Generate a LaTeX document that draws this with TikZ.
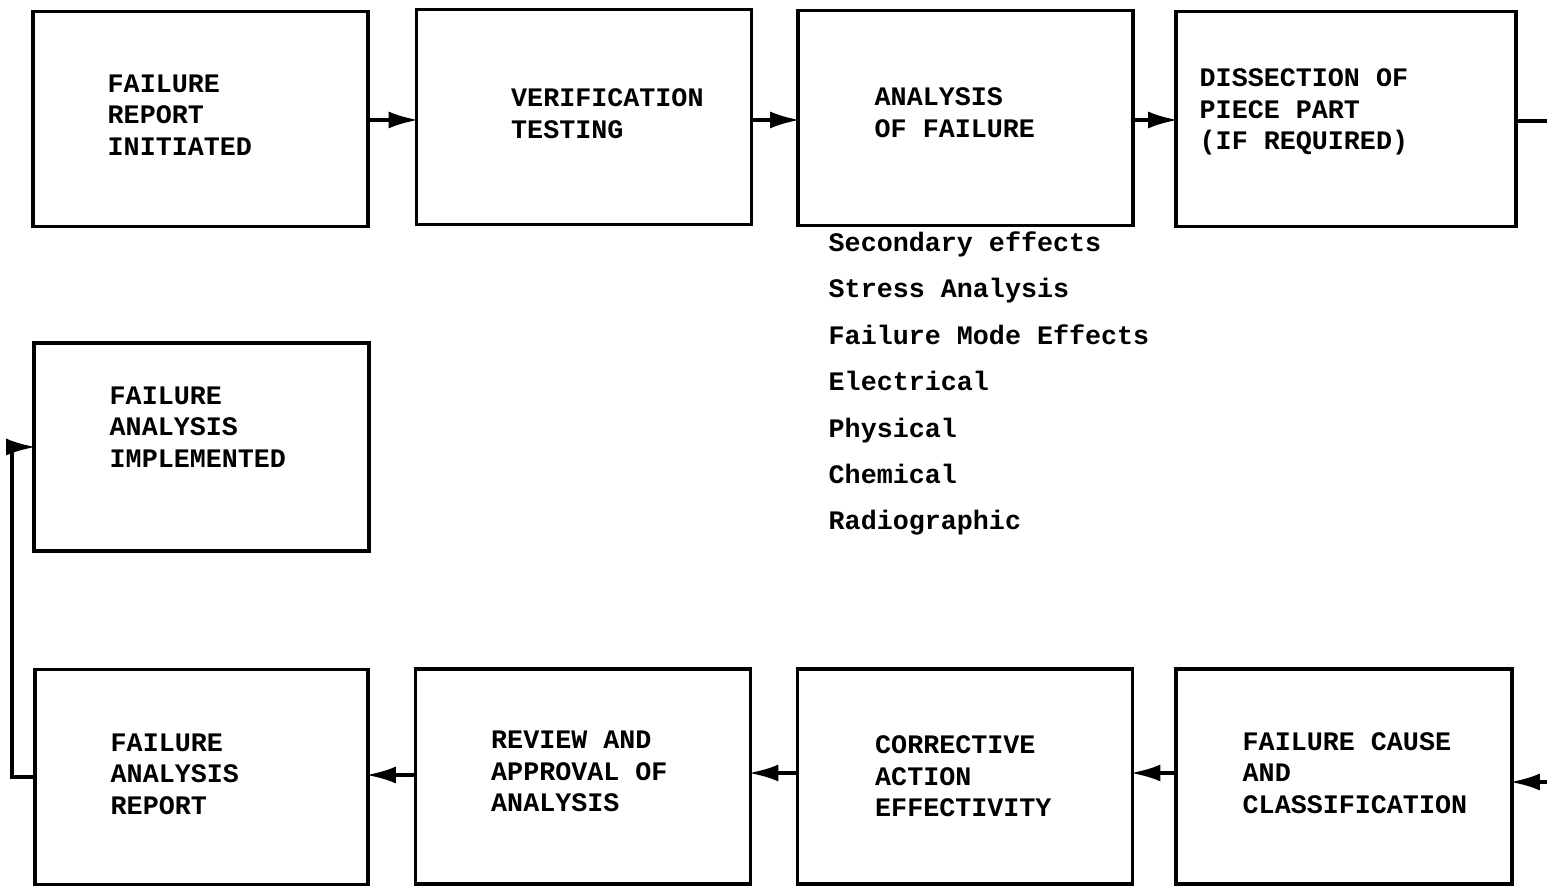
\documentclass[tikz,border=0pt]{standalone}
\usepackage{fontspec}
\usepackage{tikz}
\usetikzlibrary{positioning,arrows.meta}
\newfontfamily\maquina{Liberation Mono}

\begin{document}
\begin{tikzpicture}[
  caja/.style={draw, line width=1.1pt, minimum width=3.35cm,
               minimum height=2.15cm, inner sep=0pt, outer sep=0pt},
  rotulo/.style={font=\maquina\bfseries\fontsize{7.6}{9}\selectfont,
                 align=left, anchor=west, inner sep=0pt},
  lista/.style={font=\maquina\bfseries\fontsize{7.6}{13.2}\selectfont,
                align=left, anchor=north west, inner sep=0pt},
  flecha/.style={line width=1.1pt, shorten >=-0.6pt,
                 -{Latex[length=3mm,width=1.7mm]}},
  linea/.style={line width=1.1pt},
]
\useasboundingbox (0,0) rectangle (15.47,8.87);
% --- fila superior --------------------------------------------------------
\node[caja] (informe) at (2.005,7.68) {};
\node[caja] (verif) at (5.84,7.70) {};
\node[caja] (analisis) at (9.655,7.69) {};
\node[caja, minimum width=3.4cm] (diseccion) at (13.46,7.68) {};
\node[rotulo, right=0.74 of informe.west, yshift=0.04cm] (t-informe)
  {FAILURE\\REPORT\\INITIATED};
\node[rotulo, right=0.94 of verif.west, yshift=0.03cm] (t-verif)
  {VERIFICATION\\TESTING};
\node[rotulo, right=0.76 of analisis.west, yshift=0.05cm] (t-analisis)
  {ANALYSIS\\OF FAILURE};
\node[rotulo, right=0.23 of diseccion.west, yshift=0.07cm] (t-diseccion)
  {DISSECTION OF\\PIECE PART\\(IF REQUIRED)};
% --- tipos de analisis ------------------------------------------------------
\node[lista] (efectos) at (8.28,6.56)
  {Secondary effects\\Stress Analysis\\Failure Mode Effects\\Electrical\\
   Physical\\Chemical\\Radiographic};
% --- caja intermedia --------------------------------------------------------
\node[caja, minimum height=2.08cm] (implementado) at (2.015,4.40) {};
\node[rotulo, right=0.75 of implementado.west, yshift=0.2cm] (t-implementado)
  {FAILURE\\ANALYSIS\\IMPLEMENTED};
% --- fila inferior ----------------------------------------------------------
\node[caja, minimum width=3.33cm] (reporte) at (2.015,1.10) {};
\node[caja] (revision) at (5.83,1.105) {};
\node[caja] (correctiva) at (9.65,1.105) {};
\node[caja, minimum width=3.36cm] (causa) at (13.44,1.105) {};
\node[rotulo, right=0.75 of reporte.west, yshift=0.03cm] (t-reporte)
  {FAILURE\\ANALYSIS\\REPORT};
\node[rotulo, right=0.75 of revision.west, yshift=0.05cm] (t-revision)
  {REVIEW AND\\APPROVAL OF\\ANALYSIS};
\node[rotulo, right=0.77 of correctiva.west] (t-correctiva)
  {CORRECTIVE\\ACTION\\EFFECTIVITY};
\node[rotulo, right=0.66 of causa.west, yshift=0.035cm] (t-causa)
  {FAILURE CAUSE\\AND\\CLASSIFICATION};
% --- conectores -------------------------------------------------------------
\coordinate (salida) at (15.47,7.66);
\coordinate (entrada) at (15.47,1.05);
\coordinate (retorno) at (0.12,2.7);
\draw[flecha] (informe.east |- 0,7.67) -- (verif.west |- 0,7.67);
\draw[flecha] (verif.east |- 0,7.67) -- (analisis.west |- 0,7.67);
\draw[flecha] (analisis.east |- 0,7.67) -- (diseccion.west |- 0,7.67);
\draw[linea] (diseccion.east |- salida) -- (salida);
\draw[flecha] (entrada) -- (entrada -| causa.east);
\draw[flecha] (causa.west |- 0,1.14) -- (correctiva.east |- 0,1.14);
\draw[flecha] (correctiva.west |- 0,1.14) -- (revision.east |- 0,1.14);
\draw[flecha] (revision.west |- 0,1.12) -- (reporte.east |- 0,1.12);
\draw[flecha] (reporte.west) -| (retorno) |- (implementado.west);
\end{tikzpicture}
\end{document}
